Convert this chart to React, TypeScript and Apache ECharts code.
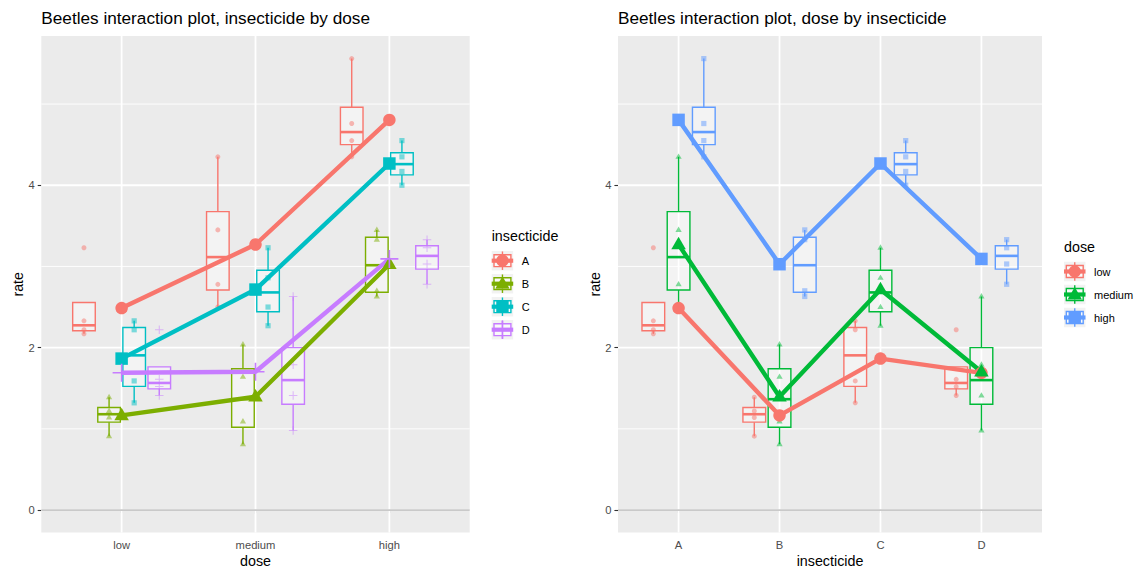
import React, { useEffect, useRef } from "react";
import * as echarts from "echarts";

// ---- data ----------------------------------------------------------------
const doses = ["low", "medium", "high"];
const insecticides = ["A", "B", "C", "D"];

// rate observations, four beetles per cell; inner lists are doses low, medium, high
const rateA = [[3.23, 2.22, 2.17, 2.33], [2.78, 3.45, 2.5, 4.35], [4.55, 4.76, 5.56, 4.35]];
const rateB = [[1.22, 0.91, 1.14, 1.39], [1.09, 1.64, 2.04, 0.81], [3.33, 2.7, 2.63, 3.45]];
const rateC = [[2.33, 2.22, 1.59, 1.32], [2.27, 2.86, 3.23, 2.5], [4.35, 4.0, 4.17, 4.55]];
const rateD = [[2.22, 1.41, 1.52, 1.61], [1.79, 0.98, 1.41, 2.63], [3.33, 2.78, 3.23, 3.03]];
const rates = [rateA, rateB, rateC, rateD];

const yTicks = [0, 2, 4];
const yMinorTicks = [1, 3, 5];

const insecticideColors = ["#F8766D", "#7CAE00", "#00BFC4", "#C77CFF"];
const doseColors = ["#F8766D", "#00BA38", "#619CFF"];
const insecticideShapes = ["circle", "triangle", "square", "plus"];
const doseShapes = ["circle", "triangle", "square"];

// ---- layout & style --------------------------------------------------------
const FONT = "'Liberation Sans', Arial, Helvetica, sans-serif";
const PANEL_TOP = 36;
const PANEL_H = 496.6;
const LEFT_PANEL = { left: 41.3, width: 428.4 };
const RIGHT_PANEL = { left: 618, width: 424 };

const plusPath = (t: number) =>
  `path://M-1,-${t}H-${t}V-1H${t}V-${t}H1V${t}H${t}V1H-${t}V${t}H-1Z`;

// ---- statistics ------------------------------------------------------------
function quantile(sorted: number[], p: number) {
  const h = (sorted.length - 1) * p;
  const i = Math.floor(h);
  const j = Math.min(i + 1, sorted.length - 1);
  return sorted[i] + (h - i) * (sorted[j] - sorted[i]);
}
function boxStats(vals: number[]) {
  const s = [...vals].sort((a, b) => a - b);
  const q1 = quantile(s, 0.25);
  const med = quantile(s, 0.5);
  const q3 = quantile(s, 0.75);
  const iqr = q3 - q1;
  const inside = s.filter((v) => v >= q1 - 1.5 * iqr && v <= q3 + 1.5 * iqr);
  return [inside[0], q1, med, q3, inside[inside.length - 1]];
}
const mean = (v: number[]) => v.reduce((a, b) => a + b, 0) / v.length;

const allValues = rates.flat(2);
const yTop = Math.max(...allValues);
const Y_MIN = -0.05 * yTop;
const Y_MAX = yTop * 1.05;

// ---- series builders -------------------------------------------------------
function meanSymbol(shape: string): any {
  if (shape === "circle") return { symbol: "circle", symbolSize: 12.5 };
  if (shape === "square") return { symbol: "rect", symbolSize: 12.5 };
  if (shape === "triangle") return { symbol: "triangle", symbolSize: [14.5, 12.5], symbolOffset: [0, -1.5] };
  return { symbol: plusPath(0.09), symbolSize: 18 };
}
function pointSymbol(shape: string): any {
  if (shape === "circle") return { symbol: "circle", symbolSize: 5 };
  if (shape === "square") return { symbol: "rect", symbolSize: 5.2 };
  if (shape === "triangle") return { symbol: "triangle", symbolSize: [6.2, 5.4], symbolOffset: [0, -0.7] };
  return { symbol: plusPath(0.12), symbolSize: 8.5 };
}

type PanelDef = {
  grid: number;
  nCat: number;
  groups: string[];
  colors: string[];
  shapes: string[];
  values: (g: number, c: number) => number[];
};

function panelSeries(p: PanelDef) {
  const k = p.groups.length;
  const dodge = 0.75 / k;
  const boxW = dodge * 0.9;
  const boxes: any[] = [];
  const points: any[] = [];
  const means: any[] = [];

  const lines: number[][] = [];
  yMinorTicks.forEach((t) => lines.push([0, t, 0]));
  yTicks.forEach((t) => lines.push([0, t, 1]));
  for (let c = 1; c <= p.nCat; c++) lines.push([1, c, 1]);
  lines.push([0, 0, 2]); // reference line at zero

  const grid = {
    type: "custom",
    xAxisIndex: p.grid,
    yAxisIndex: p.grid,
    z: 1,
    silent: true,
    clip: false,
    data: lines,
    renderItem: (params: any, api: any) => {
      const cs = params.coordSys;
      const orient = api.value(0);
      const val = api.value(1);
      const kind = api.value(2);
      if (orient === 0) {
        const y = api.coord([1, val])[1];
        return {
          type: "line",
          shape: { x1: cs.x, y1: y, x2: cs.x + cs.width, y2: y },
          style: { stroke: kind === 2 ? "#C9C9C9" : "#FFFFFF", lineWidth: kind === 0 ? 0.9 : 1.8 },
        };
      }
      const x = api.coord([val, 0])[0];
      return {
        type: "line",
        shape: { x1: x, y1: cs.y, x2: x, y2: cs.y + cs.height },
        style: { stroke: "#FFFFFF", lineWidth: 1.8 },
      };
    },
  };

  p.groups.forEach((name, g) => {
    const off = (g - (k - 1) / 2) * dodge;
    const color = p.colors[g];
    const boxData: number[][] = [];
    const ptData: number[][] = [];
    const meanData: number[][] = [];
    for (let c = 0; c < p.nCat; c++) {
      const v = p.values(g, c);
      boxData.push([c + 1 + off, ...boxStats(v)]);
      v.forEach((y) => ptData.push([c + 1 + off, y]));
      meanData.push([c + 1, mean(v)]);
    }
    boxes.push({
      type: "custom",
      name,
      xAxisIndex: p.grid,
      yAxisIndex: p.grid,
      z: 2,
      silent: true,
      data: boxData,
      renderItem: (_params: any, api: any) => {
        const x = api.value(0);
        const lo = api.coord([x, api.value(1)]);
        const q1 = api.coord([x, api.value(2)]);
        const md = api.coord([x, api.value(3)]);
        const q3 = api.coord([x, api.value(4)]);
        const hi = api.coord([x, api.value(5)]);
        const half = api.size([boxW, 0])[0] / 2;
        const px = q1[0];
        const children: any[] = [];
        if (hi[1] < q3[1])
          children.push({ type: "line", shape: { x1: px, y1: hi[1], x2: px, y2: q3[1] }, style: { stroke: color, lineWidth: 1.4 } });
        if (lo[1] > q1[1])
          children.push({ type: "line", shape: { x1: px, y1: q1[1], x2: px, y2: lo[1] }, style: { stroke: color, lineWidth: 1.4 } });
        children.push({
          type: "rect",
          shape: { x: px - half, y: q3[1], width: 2 * half, height: q1[1] - q3[1] },
          style: { fill: "rgba(255,255,255,0.4)", stroke: color, lineWidth: 1.4 },
        });
        children.push({
          type: "line",
          shape: { x1: px - half, y1: md[1], x2: px + half, y2: md[1] },
          style: { stroke: color, lineWidth: 2.6 },
        });
        return { type: "group", children };
      },
    });
    points.push({
      type: "scatter",
      name,
      xAxisIndex: p.grid,
      yAxisIndex: p.grid,
      z: 3,
      silent: true,
      data: ptData,
      ...pointSymbol(p.shapes[g]),
      itemStyle: { color, opacity: 0.5 },
    });
    means.push({
      type: "line",
      name,
      xAxisIndex: p.grid,
      yAxisIndex: p.grid,
      z: 4,
      silent: true,
      data: meanData,
      showSymbol: true,
      ...meanSymbol(p.shapes[g]),
      lineStyle: { color, width: 4.4 },
      itemStyle: { color, opacity: 1 },
    });
  });
  return [grid, ...boxes, ...points, ...means];
}

function xAxis(grid: number, labels: string[], title: string) {
  const ticks = labels.map((_, i) => i + 1);
  return {
    gridIndex: grid,
    type: "value",
    min: 0.4,
    max: labels.length + 0.6,
    axisLine: { show: false },
    splitLine: { show: false },
    axisTick: { show: true, customValues: ticks, length: 3.6, lineStyle: { color: "#333333", width: 1.1 } },
    axisLabel: {
      customValues: ticks,
      formatter: (v: number) => labels[Math.round(v) - 1] ?? "",
      color: "#4D4D4D",
      fontSize: 11.2,
      fontFamily: FONT,
      margin: 6.5,
    },
    name: title,
    nameLocation: "middle",
    nameGap: 21,
    nameMoveOverlap: false,
    nameTextStyle: { color: "#000000", fontSize: 14.3, fontFamily: FONT },
  };
}

function yAxis(grid: number) {
  return {
    gridIndex: grid,
    type: "value",
    min: Y_MIN,
    max: Y_MAX,
    axisLine: { show: false },
    splitLine: { show: false },
    axisTick: { show: true, customValues: yTicks, length: 3.6, lineStyle: { color: "#333333", width: 1.1 } },
    axisLabel: {
      customValues: yTicks,
      color: "#4D4D4D",
      fontSize: 11.2,
      fontFamily: FONT,
      margin: 6.5,
    },
    name: "rate",
    nameLocation: "middle",
    nameGap: 16,
    nameMoveOverlap: false,
    nameTextStyle: { color: "#000000", fontSize: 14.3, fontFamily: FONT },
  };
}

// ---- legend ----------------------------------------------------------------
function keyShape(shape: string, cx: number, cy: number, color: string): any {
  if (shape === "circle") return { type: "circle", shape: { cx, cy, r: 6.2 }, style: { fill: color } };
  if (shape === "square")
    return { type: "rect", shape: { x: cx - 6.2, y: cy - 6.2, width: 12.4, height: 12.4 }, style: { fill: color } };
  if (shape === "triangle")
    return {
      type: "polygon",
      shape: { points: [[cx, cy - 7.5], [cx - 7.2, cy + 5], [cx + 7.2, cy + 5]] },
      style: { fill: color },
    };
  return {
    type: "group",
    children: [
      { type: "line", shape: { x1: cx - 9, y1: cy, x2: cx + 9, y2: cy }, style: { stroke: color, lineWidth: 1.6 } },
      { type: "line", shape: { x1: cx, y1: cy - 9, x2: cx, y2: cy + 9 }, style: { stroke: color, lineWidth: 1.6 } },
    ],
  };
}

function legendElements(
  title: string,
  labels: string[],
  colors: string[],
  shapes: string[],
  x: number,
  titleY: number,
  firstKeyY: number,
  pitch: number
) {
  const kw = 21.5;
  const kh = 19.5;
  const els: any[] = [
    {
      type: "text",
      style: { text: title, x, y: titleY, fill: "#000000", fontSize: 14.3, fontFamily: FONT, verticalAlign: "middle", textVerticalAlign: "middle" },
    },
  ];
  labels.forEach((lab, i) => {
    const cy = firstKeyY + i * pitch;
    const ky = cy - kh / 2;
    const cx = x + kw / 2;
    const col = colors[i];
    els.push({ type: "rect", shape: { x, y: ky, width: kw, height: kh }, style: { fill: "#F2F2F2" } });
    els.push({ type: "line", shape: { x1: cx, y1: ky + 0.5, x2: cx, y2: ky + kh - 0.5 }, style: { stroke: col, lineWidth: 1.4 } });
    els.push({
      type: "rect",
      shape: { x: x + 2.3, y: ky + 3.8, width: kw - 4.6, height: kh - 7.6 },
      style: { fill: "rgba(255,255,255,0.55)", stroke: col, lineWidth: 1.4 },
    });
    els.push({ type: "line", shape: { x1: x, y1: cy, x2: x + kw, y2: cy }, style: { stroke: col, lineWidth: 4.2 } });
    els.push(keyShape(shapes[i], cx, cy, col));
    els.push({
      type: "text",
      style: { text: lab, x: x + kw + 8.5, y: cy, fill: "#000000", fontSize: 11, fontFamily: FONT, verticalAlign: "middle", textVerticalAlign: "middle" },
    });
  });
  return els;
}

// ---- component -------------------------------------------------------------
export default function App() {
  const ref = useRef<HTMLDivElement>(null);

  useEffect(() => {
    if (!ref.current) return;
    const chart = echarts.init(ref.current, undefined, { renderer: "svg" });

    const leftPanel: PanelDef = {
      grid: 0,
      nCat: doses.length,
      groups: insecticides,
      colors: insecticideColors,
      shapes: insecticideShapes,
      values: (g, c) => rates[g][c],
    };
    const rightPanel: PanelDef = {
      grid: 1,
      nCat: insecticides.length,
      groups: doses,
      colors: doseColors,
      shapes: doseShapes,
      values: (g, c) => rates[c][g],
    };

    const gridBase = {
      top: PANEL_TOP,
      height: PANEL_H,
      show: true,
      backgroundColor: "#EBEBEB",
      borderWidth: 0,
      containLabel: false,
      outerBoundsMode: "none",
    };

    chart.setOption({
      animation: false,
      textStyle: { fontFamily: FONT },
      title: [
        {
          text: "Beetles interaction plot, insecticide by dose",
          left: LEFT_PANEL.left,
          top: 9,
          padding: 0,
          textStyle: { fontSize: 17.2, fontWeight: "normal", color: "#000000", fontFamily: FONT },
        },
        {
          text: "Beetles interaction plot, dose by insecticide",
          left: RIGHT_PANEL.left,
          top: 9,
          padding: 0,
          textStyle: { fontSize: 17.2, fontWeight: "normal", color: "#000000", fontFamily: FONT },
        },
      ],
      grid: [
        { ...gridBase, left: LEFT_PANEL.left, width: LEFT_PANEL.width },
        { ...gridBase, left: RIGHT_PANEL.left, width: RIGHT_PANEL.width },
      ],
      xAxis: [xAxis(0, doses, "dose"), xAxis(1, insecticides, "insecticide")],
      yAxis: [yAxis(0), yAxis(1)],
      series: [...panelSeries(leftPanel), ...panelSeries(rightPanel)],
      graphic: [
        ...legendElements("insecticide", insecticides, insecticideColors, insecticideShapes, 491.7, 236, 260.7, 23),
        ...legendElements("dose", doses, doseColors, doseShapes, 1064, 246.5, 271.5, 23),
      ],
    });

    return () => chart.dispose();
  }, []);

  return <div ref={ref} style={{ position: "absolute", left: 0, top: 0, width: 1136, height: 568 }} />;
}
